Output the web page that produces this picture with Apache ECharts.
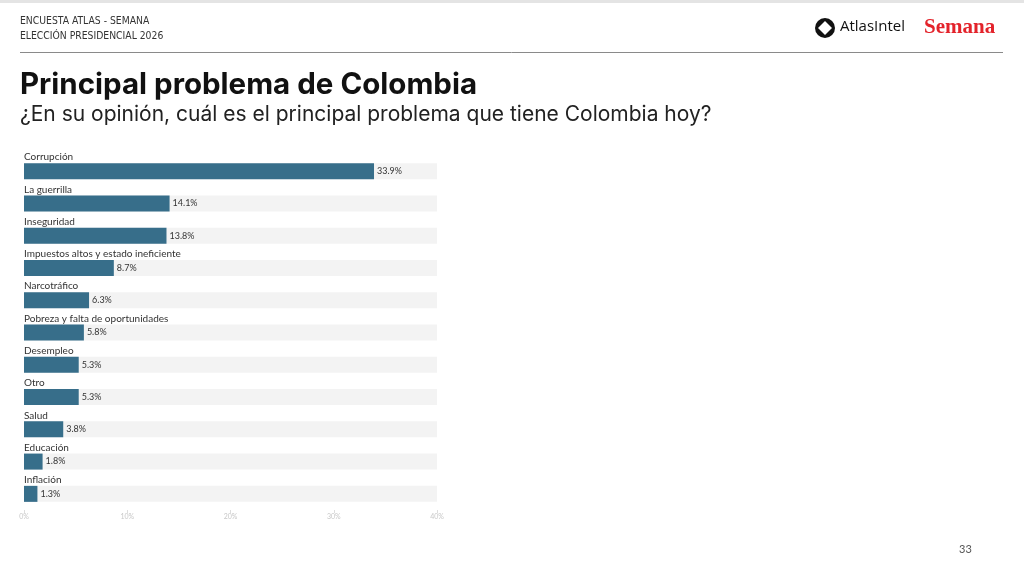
<!DOCTYPE html>
<html><head><meta charset="utf-8">
<script src="https://cdn.jsdelivr.net/npm/echarts@6/dist/echarts.min.js"></script>
<style>html,body{margin:0;padding:0;background:#fff}#c{width:1024px;height:576px}</style>
</head><body><div id="c"></div>
<script>
const categories = ["Corrupción","La guerrilla","Inseguridad","Impuestos altos y estado ineficiente","Narcotráfico","Pobreza y falta de oportunidades","Desempleo","Otro","Salud","Educación","Inflación"];
const values = [33.9,14.1,13.8,8.7,6.3,5.8,5.3,5.3,3.8,1.8,1.3];
const tickValues = [0,10,20,30,40];
const maxValue = 40;

const chart = echarts.init(document.getElementById('c'), null, {renderer:'canvas'});
const font = 'Lato, "Noto Sans", sans-serif';
const narrow = '"Liberation Sans Narrow","DejaVu Sans Condensed",sans-serif';
chart.setOption({
  backgroundColor:'#ffffff',
  animation:false,
  grid:{left:24,right:587,top:155,bottom:66,containLabel:false},
  xAxis:{type:'value',min:tickValues[0],max:maxValue,interval:10,
    axisLine:{show:false},splitLine:{show:false},
    axisTick:{show:true,length:3,lineStyle:{color:'#ddd'}},
    axisLabel:{formatter:'{value}%',color:'#c8c8c8',fontSize:7,fontFamily:font,margin:3}},
  yAxis:{type:'category',data:categories,inverse:true,show:false},
  series:[
    {type:'bar',data:categories.map(()=>maxValue),barWidth:16,barGap:'-100%',silent:true,
     itemStyle:{color:'#f3f3f3'},
     label:{show:true,position:[0,-6],verticalAlign:'middle',align:'left',
       formatter:p=>categories[p.dataIndex],color:'#333',fontSize:10,fontFamily:font}},
    {type:'bar',data:values,barWidth:16,itemStyle:{color:'#376e8a'},
     label:{show:true,position:'right',distance:3,formatter:'{c}%',color:'#333',fontSize:9,fontFamily:font}}
  ],
  graphic:[
    {type:'rect',shape:{x:0,y:0,width:1024,height:3},style:{fill:'#e4e4e4'}},
    {type:'text',left:20,top:16,style:{text:'ENCUESTA ATLAS - SEMANA',fontSize:10.3,fontFamily:narrow,fill:'#333'}},
    {type:'text',left:20,top:31,style:{text:'ELECCIÓN PRESIDENCIAL 2026',fontSize:10.3,fontFamily:narrow,fill:'#333'}},
    {type:'line',shape:{x1:20,y1:52.5,x2:1003,y2:52.5},style:{stroke:'#8a8a8a',lineWidth:1}},
    {type:'circle',shape:{cx:825,cy:28,r:10},style:{fill:'#111'}},
    {type:'polygon',shape:{points:[[825,21],[832,28],[825,35],[818,28]]},style:{fill:'#fff'}},
    {type:'text',left:840,top:19,style:{text:'AtlasIntel',fontSize:15,fontFamily:'"Open Sans",sans-serif',fill:'#111'}},
    {type:'text',left:924,top:17,style:{text:'Semana',fontSize:21,fontWeight:'bold',fontFamily:'"Liberation Serif",serif',fill:'#e3232b'}},
    {type:'text',left:20,top:70,style:{text:'Principal problema de Colombia',fontSize:29.5,fontWeight:'bold',fontFamily:'Inter,sans-serif',fill:'#111'}},
    {type:'text',left:20,top:104,style:{text:'¿En su opinión, cuál es el principal problema que tiene Colombia hoy?',fontSize:21,fontFamily:'Inter,"Noto Sans",sans-serif',fill:'#222'}},
    {type:'text',left:959,top:544,style:{text:'33',fontSize:11,fontFamily:font,fill:'#555'}}
  ]
});
</script></body></html>
